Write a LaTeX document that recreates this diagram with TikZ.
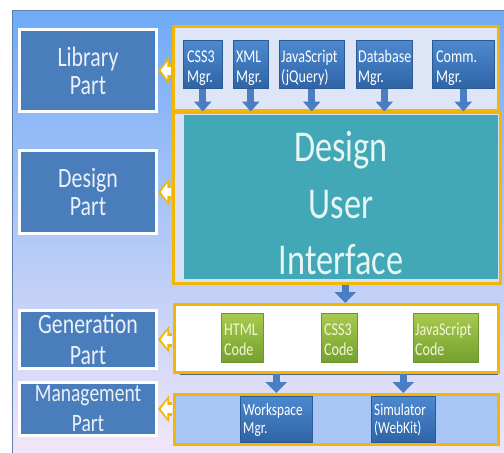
\documentclass[tikz,border=0pt]{standalone}
\usepackage{fontspec}
\setmainfont{Carlito}
\newfontfamily\narrowfont[FakeStretch=0.78]{Carlito}
\usetikzlibrary{arrows.meta,calc}

% palette
\definecolor{bgtop}{HTML}{6FAAF6}
\definecolor{bgmid}{HTML}{82B0F6}
\definecolor{bgbottom}{HTML}{F1E6F7}
\definecolor{framegray}{HTML}{5F7FAF}
\definecolor{gold}{HTML}{F2B705}
\definecolor{partblue}{HTML}{4A7DBC}
\definecolor{parttext}{HTML}{EAF1FA}
\definecolor{libfill}{HTML}{DEE5F7}
\definecolor{dsgfill}{HTML}{D9E0F5}
\definecolor{uiteal}{HTML}{42A7B7}
\definecolor{uitext}{HTML}{E6F6F3}
\definecolor{mgmtfill}{HTML}{A9C5F5}
\definecolor{genshade}{HTML}{5A6478}
\definecolor{mgrtop}{HTML}{4D89CF}
\definecolor{mgrbottom}{HTML}{2F64A6}
\definecolor{mgredge}{HTML}{2B5A94}
\definecolor{codetop}{HTML}{A8C94E}
\definecolor{codebottom}{HTML}{74A12F}
\definecolor{codeedge}{HTML}{6E9430}
\definecolor{codetext}{HTML}{F1F6D6}
\definecolor{arrowblue}{HTML}{4A7DC2}

% type sizes
\newcommand\uifont{\narrowfont\fontsize{44}{56.5}\selectfont}
\newcommand\partlbl{\narrowfont\fontsize{28}{28}\selectfont}
\newcommand\genlbl{\narrowfont\fontsize{28}{31}\selectfont}
\newcommand\mgmtlbl{\narrowfont\fontsize{25}{30}\selectfont}
\newcommand\boxlbl{\narrowfont\fontsize{18}{20}\selectfont}
\newcommand\wslbl{\narrowfont\fontsize{17}{18}\selectfont}

\tikzset{
  panel/.style={draw=gold, line width=2.5pt, anchor=north west, inner sep=0pt},
  partbox/.style={draw=white, line width=3pt, fill=partblue, anchor=north west,
    minimum width=137pt, inner sep=0pt, text=parttext, align=center},
  mgrbox/.style={draw=mgredge, line width=0.6pt, top color=mgrtop, bottom color=mgrbottom,
    anchor=north west, inner sep=0pt, minimum height=48pt},
  codebox/.style={draw=codeedge, line width=0.6pt, top color=codetop, bottom color=codebottom,
    anchor=north west, inner sep=0pt, minimum height=49pt},
  wsbox/.style={draw=mgredge, line width=0.6pt, top color=mgrtop, bottom color=mgrbottom,
    anchor=north west, inner sep=0pt, minimum height=46pt},
  boxtext/.style={anchor=north west, align=left, font=\boxlbl, text=white,
    inner xsep=4pt, inner ysep=8pt},
  dnarrow/.style={draw=arrowblue, line width=7pt, -{Triangle[width=17pt,length=10pt]}},
  dnarrowbig/.style={draw=arrowblue, line width=7.5pt, -{Triangle[width=21pt,length=11pt]}},
  leftarrow/.style={draw=gold, line width=14pt, -{Triangle[width=26pt,length=11pt]},
    postaction={draw=white, line width=8pt, -{Triangle[width=17pt,length=6.5pt]}, shorten >=2.8pt}},
}

\begin{document}
\begin{tikzpicture}[x=1pt,y=-1pt]
\useasboundingbox (0,0) rectangle (504,453);

% backdrop
\shade[top color=bgtop, middle color=bgmid, bottom color=bgbottom] (12,10) rectangle (504,453);
\draw[framegray, line width=1pt] (12,453) -- (12,10) -- (504,10);

% right-hand panels
\node[panel, fill=libfill, minimum width=325pt, minimum height=84pt] (lib) at (172,25) {};
\node[panel, fill=dsgfill, minimum width=327pt, minimum height=171pt] (dsg) at (172,111) {};
\node[anchor=north west, fill=uiteal, inner sep=0pt, minimum width=314pt, minimum height=164pt] (dui) at (184,115) {};
\node[font=\uifont, text=uitext, align=center, inner sep=0pt] (duitext) at (341,203.5) {Design\\User\\Interface};
\fill[genshade] (180,306) rectangle (498,374.5);
\node[panel, fill=white, minimum width=324pt, minimum height=68pt] (gen) at (173,303) {};
\node[panel, fill=mgmtfill, minimum width=324pt, minimum height=50pt] (mgmt) at (173,393) {};

% left-hand part labels
\node[partbox, minimum height=82pt, font=\partlbl] (plib) at (18,28) {Library\\Part};
\node[partbox, minimum height=83pt, font=\partlbl] (pdsg) at (18,149) {Design\\Part};
\node[partbox, minimum height=58pt, font=\genlbl] (pgen) at (18,309) {Generation\\Part};
\node[partbox, minimum height=53pt, font=\mgmtlbl] (pmgmt) at (18,381) {Management\\Part};

% library managers
\node[mgrbox, minimum width=39pt] (css) at (183,40) {};
\node[boxtext] at (css.north west) {\strut CSS3\\Mgr.};
\node[mgrbox, minimum width=35pt] (xml) at (233,40) {};
\node[boxtext, inner xsep=3pt] at (xml.north west) {\strut XML\\Mgr.};
\node[mgrbox, minimum width=65pt] (js) at (279,40) {};
\node[boxtext, inner xsep=2pt] at (js.north west) {\strut JavaScript\\(jQuery)};
\node[mgrbox, minimum width=56pt] (db) at (356,40) {};
\node[boxtext, inner xsep=2pt] at (db.north west) {\strut Database\\Mgr.};
\node[mgrbox, minimum width=62pt] (comm) at (432,40) {};
\node[boxtext] at (comm.north west) {\strut Comm.\\Mgr.};

% generated code
\node[codebox, minimum width=42pt] (htmlc) at (221,313) {};
\node[boxtext, text=codetext, inner xsep=3pt] at (htmlc.north west) {\strut HTML\\Code};
\node[codebox, minimum width=36pt] (cssc) at (321,313) {};
\node[boxtext, text=codetext, inner xsep=3pt] at (cssc.north west) {\strut CSS3\\Code};
\node[codebox, minimum width=65pt] (jsc) at (413,313) {};
\node[boxtext, text=codetext, inner xsep=2pt] at (jsc.north west) {\strut JavaScript\\Code};

% management tools
\node[wsbox, minimum width=72pt] (ws) at (240,396) {};
\node[boxtext, font=\wslbl, inner xsep=3pt, inner ysep=6.4pt] at (ws.north west) {\strut Workspace\\Mgr.};
\node[wsbox, minimum width=64pt] (sim) at (371,396) {};
\node[boxtext, font=\wslbl, inner xsep=3pt, inner ysep=6.4pt] at (sim.north west) {\strut Simulator\\(WebKit)};

% flow between layers
\foreach \m in {css,xml,js,db,comm}
  \draw[dnarrow] (\m.south) -- (\m.south |- lib.south);
\draw[dnarrowbig] ([xshift=6pt]cssc.north |- dsg.south) -- ([xshift=6pt]cssc.north |- gen.north);
\draw[dnarrowbig] (ws.north |- gen.south) -- (ws.north |- mgmt.north);
\draw[dnarrowbig] (sim.north |- gen.south) -- (sim.north |- mgmt.north);

% each panel reports to its part label
\draw[leftarrow] ([xshift=-1.2pt]lib.west |- plib.east) -- (plib.east);
\draw[leftarrow] ([xshift=-1.2pt]dsg.west |- pdsg.east) -- (pdsg.east);
\draw[leftarrow] ([xshift=-1.2pt]gen.west |- pgen.east) -- (pgen.east);
\draw[leftarrow] ([xshift=-1.2pt]mgmt.west |- pmgmt.east) -- (pmgmt.east);
\end{tikzpicture}
\end{document}
